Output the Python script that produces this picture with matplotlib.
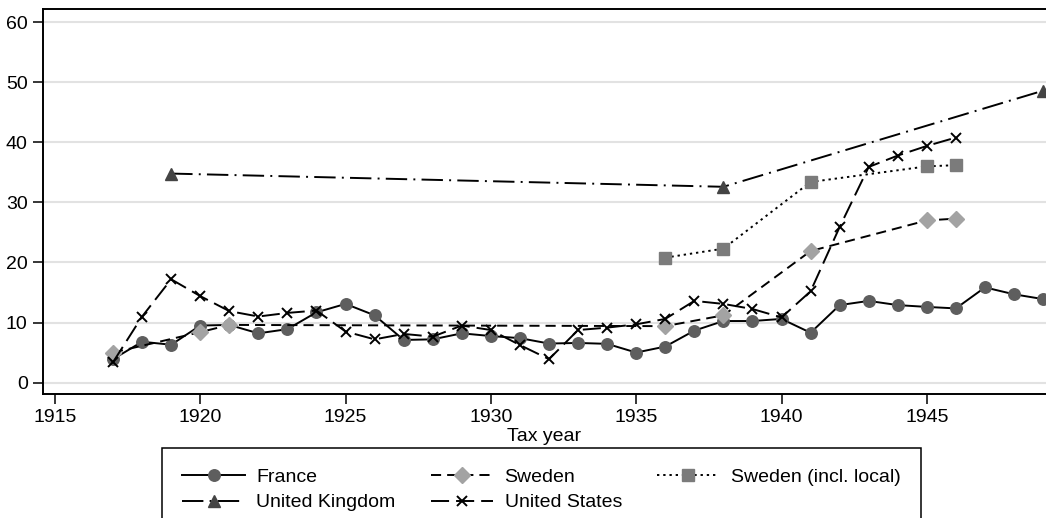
import numpy as np
import matplotlib
matplotlib.use('Agg')
import matplotlib.pyplot as plt

plt.rcParams['font.family'] = ['Liberation Sans', 'DejaVu Sans']

# top marginal income tax rates (%), by tax year
france_years = list(range(1917, 1950))
france = [3.9, 6.8, 6.3, 9.5, 9.6, 8.2, 8.9, 11.7, 13.1, 11.2, 7.1, 7.2, 8.2, 7.75,
          7.4, 6.5, 6.6, 6.45, 5.0, 6.0, 8.65, 10.25, 10.25, 10.6, 8.3, 12.9, 13.6,
          12.9, 12.6, 12.35, 15.85, 14.7, 13.9]

sweden_years = [1917, 1920, 1921, 1936, 1938, 1941, 1945, 1946]
sweden = [5.0, 8.4, 9.6, 9.4, 11.2, 21.9, 27.0, 27.3]

sweden_local_years = [1936, 1938, 1941, 1945, 1946]
sweden_local = [20.8, 22.3, 33.4, 36.0, 36.2]

uk_years = [1919, 1938, 1949]
uk = [34.8, 32.6, 48.6]

us_years = list(range(1917, 1947))
us = [3.4, 11.0, 17.2, 14.4, 11.9, 11.0, 11.6, 12.0, 8.5, 7.2, 8.1, 7.65, 9.5, 8.75,
      6.25, 3.9, 8.75, 9.15, 9.7, 10.6, 13.6, 13.1, 12.25, 10.85, 15.2, 25.9, 35.9,
      37.8, 39.4, 40.8]

fig = plt.figure(figsize=(10.46, 5.18), dpi=100)
ax = fig.add_axes([43 / 1046, 124 / 518, 1003 / 1046, 385 / 518])

lw = 1.4
h_fr, = ax.plot(france_years, france, '-', color='black', lw=lw, marker='o', ms=8.3,
                mfc='#5e5e5e', mec='#5e5e5e', label='France', zorder=3)
h_sw, = ax.plot(sweden_years, sweden, color='black', lw=lw, dashes=(5.2, 3.1),
                marker='D', ms=8, mfc='#a3a3a3', mec='#a3a3a3', label='Sweden', zorder=4)
h_sl, = ax.plot(sweden_local_years, sweden_local, color='black', lw=lw, dashes=(1.2, 2.0),
                marker='s', ms=8, mfc='#7b7b7b', mec='#7b7b7b',
                label='Sweden (incl. local)', zorder=5)
h_uk, = ax.plot(uk_years, uk, color='black', lw=lw, dashes=(11, 3.2, 1, 3.2),
                marker='^', ms=9, mfc='#444444', mec='#444444',
                label='United Kingdom', zorder=6)
h_us, = ax.plot(us_years, us, color='black', lw=lw, dashes=(9.3, 3.6),
                marker='x', ms=7, mew=1.4, mec='black', label='United States', zorder=7)

ax.set_xlim(1914.59, 1949.1)
ax.set_ylim(-1.9, 62.2)
ax.set_xticks(np.arange(1915, 1950, 5))
ax.set_yticks(np.arange(0, 61, 10))
ax.yaxis.grid(True, color='#e2e2e2', lw=1.5)
ax.set_axisbelow(True)
ax.spines['right'].set_visible(False)
for s in ['left', 'bottom', 'top']:
    ax.spines[s].set_linewidth(1.4)
ax.tick_params(axis='both', labelsize=14, width=1.1, length=7, pad=4)
ax.set_xlabel('Tax year', fontsize=14, labelpad=1)

handles = [h_fr, h_uk, h_sw, h_us, h_sl]
leg = fig.legend(handles=handles, labels=[h.get_label() for h in handles],
                 loc='upper center', bbox_to_anchor=(541.5 / 1046, 70 / 518),
                 borderaxespad=0, ncol=3, fontsize=14, numpoints=1,
                 handlelength=3.2, handletextpad=0.6, columnspacing=1.8,
                 borderpad=1.05, labelspacing=0.4, fancybox=False, framealpha=1,
                 edgecolor='black')
leg.get_frame().set_linewidth(1.1)

fig.savefig('out.png', dpi=100)
